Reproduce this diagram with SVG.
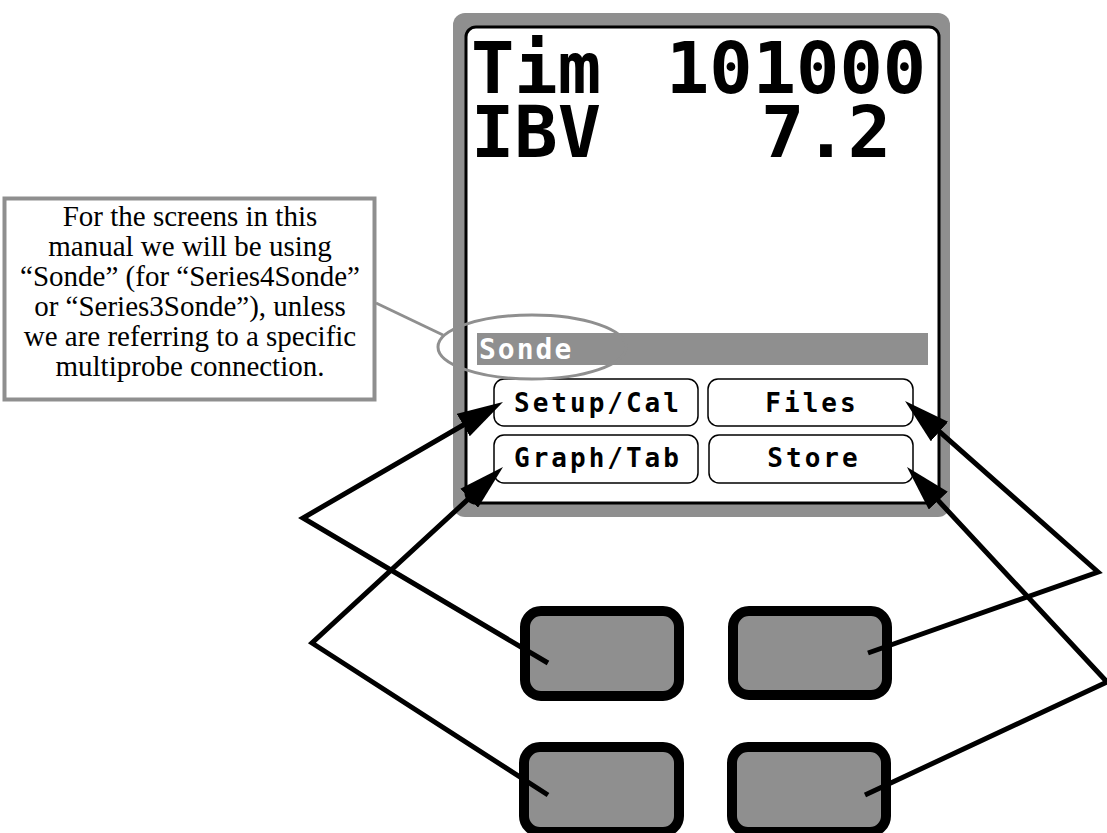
<svg xmlns="http://www.w3.org/2000/svg" width="1107" height="833" viewBox="0 0 1107 833">
<defs>
<marker id="ah" markerUnits="userSpaceOnUse" markerWidth="46" markerHeight="26" refX="26" refY="13" orient="auto"><path d="M0,0 L46,13 L0,26 z" fill="#000"/></marker>
</defs>
<style>
.big{font-family:"DejaVu Sans Mono","Liberation Mono",monospace;font-weight:bold;font-size:72px;fill:#000}
.btn{fill:#fff;stroke:#000;stroke-width:1.5}
.btxt{font-family:"DejaVu Sans Mono","Liberation Mono",monospace;font-weight:bold;font-size:26px;letter-spacing:3px;fill:#000;text-anchor:middle}
.key{fill:#8f8f8f;stroke:#000;stroke-width:10}
.conn{fill:none;stroke:#000;stroke-width:5;stroke-linejoin:miter;stroke-miterlimit:20}
.note{font-family:"Liberation Serif","Times New Roman",serif;font-size:29px;fill:#000;text-anchor:middle}
.grey{fill:#8f8f8f}
</style>
<g id="device">
<rect class="grey" x="453" y="13" width="497" height="504" rx="12"/>
<rect x="466" y="27" width="473" height="476" rx="10" fill="#fff" stroke="#000" stroke-width="3"/>
<text class="big"><tspan x="471" y="93">Tim</tspan><tspan x="666" y="93">101000</tspan><tspan x="471" y="157">IBV</tspan><tspan x="761" y="157">7.2</tspan></text>
</g>
<g id="sonde-bar">
<rect class="grey" x="477" y="333" width="451" height="32"/>
<text x="479" y="359" font-family="DejaVu Sans Mono, Liberation Mono, monospace" font-weight="bold" font-size="28" letter-spacing="2" fill="#fff">Sonde</text>
</g>
<g id="btn-setup"><rect class="btn" x="494" y="379" width="204" height="47" rx="10"/><text class="btxt" x="598" y="412">Setup/Cal</text></g>
<g id="btn-files"><rect class="btn" x="708" y="379" width="205" height="47" rx="10"/><text class="btxt" x="812" y="412">Files</text></g>
<g id="btn-graph"><rect class="btn" x="494" y="435" width="204" height="48" rx="10"/><text class="btxt" x="598" y="467">Graph/Tab</text></g>
<g id="btn-store"><rect class="btn" x="709" y="435" width="204" height="48" rx="10"/><text class="btxt" x="814" y="467">Store</text></g>
<g id="callout">
<rect x="4.5" y="198.5" width="370" height="201" fill="#fff" stroke="#8f8f8f" stroke-width="4"/>
<text class="note" x="190" y="226">For the screens in this</text>
<text class="note" x="190" y="256">manual we will be using</text>
<text class="note" x="190" y="286">“Sonde” (for “Series4Sonde”</text>
<text class="note" x="190" y="316">or “Series3Sonde”), unless</text>
<text class="note" x="190" y="346">we are referring to a specific</text>
<text class="note" x="190" y="376">multiprobe connection.</text>
<line x1="376" y1="303" x2="443" y2="335" stroke="#8f8f8f" stroke-width="3"/>
<ellipse cx="532" cy="347" rx="94" ry="32" fill="none" stroke="#8f8f8f" stroke-width="3"/>
</g>
<g id="key-tl"><rect class="key" x="525" y="611" width="154" height="85" rx="16"/></g>
<g id="key-tr"><rect class="key" x="733" y="611" width="154" height="84" rx="16"/></g>
<g id="key-bl"><rect class="key" x="524" y="747" width="155" height="85" rx="16"/></g>
<g id="key-br"><rect class="key" x="732" y="747" width="154" height="85" rx="16"/></g>
<g id="connectors">
<polyline class="conn" points="548,663 303,518 485.7,412" marker-end="url(#ah)"/>
<polyline class="conn" points="548,795 312,643 488.3,480.6" marker-end="url(#ah)"/>
<polyline class="conn" points="868,653 1098,572 920,414.3" marker-end="url(#ah)"/>
<polyline class="conn" points="865,795 1107,682 920.6,481.6" marker-end="url(#ah)"/>
</g>
</svg>
